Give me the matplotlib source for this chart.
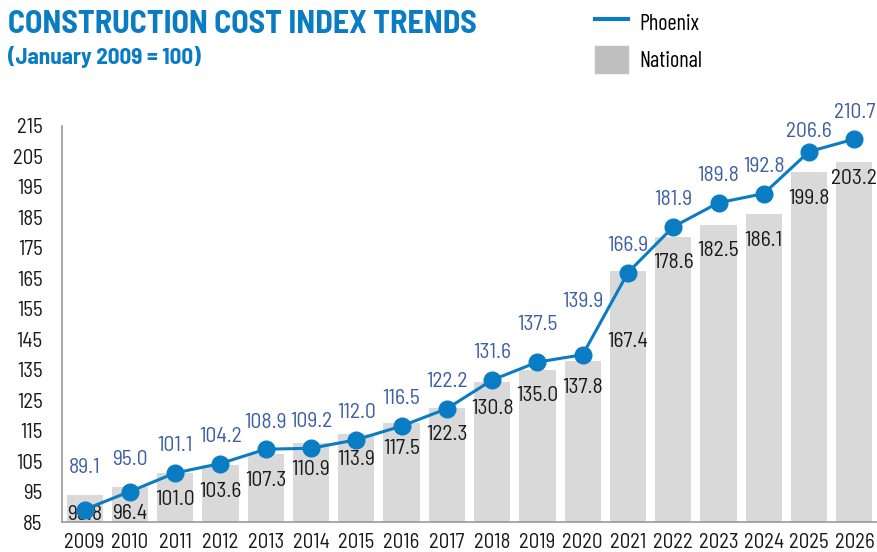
import matplotlib
matplotlib.use('Agg')
import matplotlib.pyplot as plt
from matplotlib import font_manager
from matplotlib.lines import Line2D
from matplotlib.patches import Patch

installed = {f.name for f in font_manager.fontManager.ttflist}
wanted = ['Barlow Semi Condensed', 'Barlow Condensed', 'Roboto Condensed', 'Archivo Narrow',
          'PT Sans Narrow', 'Oswald']
cond = [w for w in wanted if w in installed]
plt.rcParams['font.family'] = cond[:1] + ['DejaVu Sans']
legend_font = [w for w in ['Barlow Condensed'] if w in installed] + cond[:1] + ['DejaVu Sans']

years = ['2009', '2010', '2011', '2012', '2013', '2014', '2015', '2016', '2017',
         '2018', '2019', '2020', '2021', '2022', '2023', '2024', '2025', '2026']
phoenix = [89.1, 95.0, 101.1, 104.2, 108.9, 109.2, 112.0, 116.5, 122.2,
           131.6, 137.5, 139.9, 166.9, 181.9, 189.8, 192.8, 206.6, 210.7]
national = [93.8, 96.4, 101.0, 103.6, 107.3, 110.9, 113.9, 117.5, 122.3,
            130.8, 135.0, 137.8, 167.4, 178.6, 182.5, 186.1, 199.8, 203.2]
yticks = list(range(85, 216, 10))

blue = '#0a7cc4'
label_blue = '#3e5fa3'
bar_grey = '#d9d9d9'

# label offsets in points (a few labels moved to clear the line)
phx_off = {0: 30, 1: 23, 10: 27, 11: 38, 16: 14.5}
nat_off = {0: 13.7, 12: 51, 17: 12.2}

fig = plt.figure(figsize=(8.77, 5.52), dpi=100)
ax = fig.add_axes([62 / 877, 30 / 552, 1 - 62 / 877, 396 / 552])

x = list(range(len(years)))
ax.bar(x, [n - 85 for n in national], bottom=85, width=0.8, color=bar_grey, zorder=1)
ax.plot(x, phoenix, color=blue, lw=2.2, marker='o', ms=12, zorder=3, clip_on=False)

for i in x:
    ax.annotate(f'{phoenix[i]:.1f}', (i, phoenix[i]), xytext=(0, phx_off.get(i, 19.5)),
                textcoords='offset points', ha='center', va='center',
                fontsize=15.5, color=label_blue, zorder=4, annotation_clip=False)
    ax.annotate(f'{national[i]:.1f}', (i, national[i]), xytext=(0, -nat_off.get(i, 18.7)),
                textcoords='offset points', ha='center', va='center',
                fontsize=15.5, color='#1a1a1a', zorder=2)

ax.set_xlim(-0.5, 17.5)
ax.set_ylim(85, 215)
ax.set_xticks(x)
ax.set_xticklabels(years)
ax.set_yticks(yticks)
ax.tick_params(axis='both', length=0, labelsize=15, colors='#1a1a1a')
ax.tick_params(axis='x', pad=8)
ax.tick_params(axis='y', pad=14)
for s in ['top', 'right']:
    ax.spines[s].set_visible(False)
for s in ['left', 'bottom']:
    ax.spines[s].set_color('#9a9a9a')
    ax.spines[s].set_linewidth(1.2)

fig.text(8 / 877, 1 - 33 / 552, 'CONSTRUCTION COST INDEX TRENDS', fontsize=23,
         fontweight='bold', color=blue, ha='left', va='baseline')
fig.text(8 / 877, 1 - 64 / 552, '(January 2009 = 100)', fontsize=16.6,
         fontweight='bold', color=blue, ha='left', va='baseline')

handles = [Line2D([0], [0], color=blue, lw=3), Patch(color='#bfbfbf')]
fig.legend(handles, ['Phoenix', 'National'], loc='upper left',
           bbox_to_anchor=(595 / 877, 1 - 9 / 552), frameon=False,
           prop={'family': legend_font, 'size': 16},
           handlelength=1.5, handleheight=1.5, handletextpad=0.5,
           labelspacing=0.45, borderpad=0, borderaxespad=0)

fig.savefig('out.png', dpi=100)
